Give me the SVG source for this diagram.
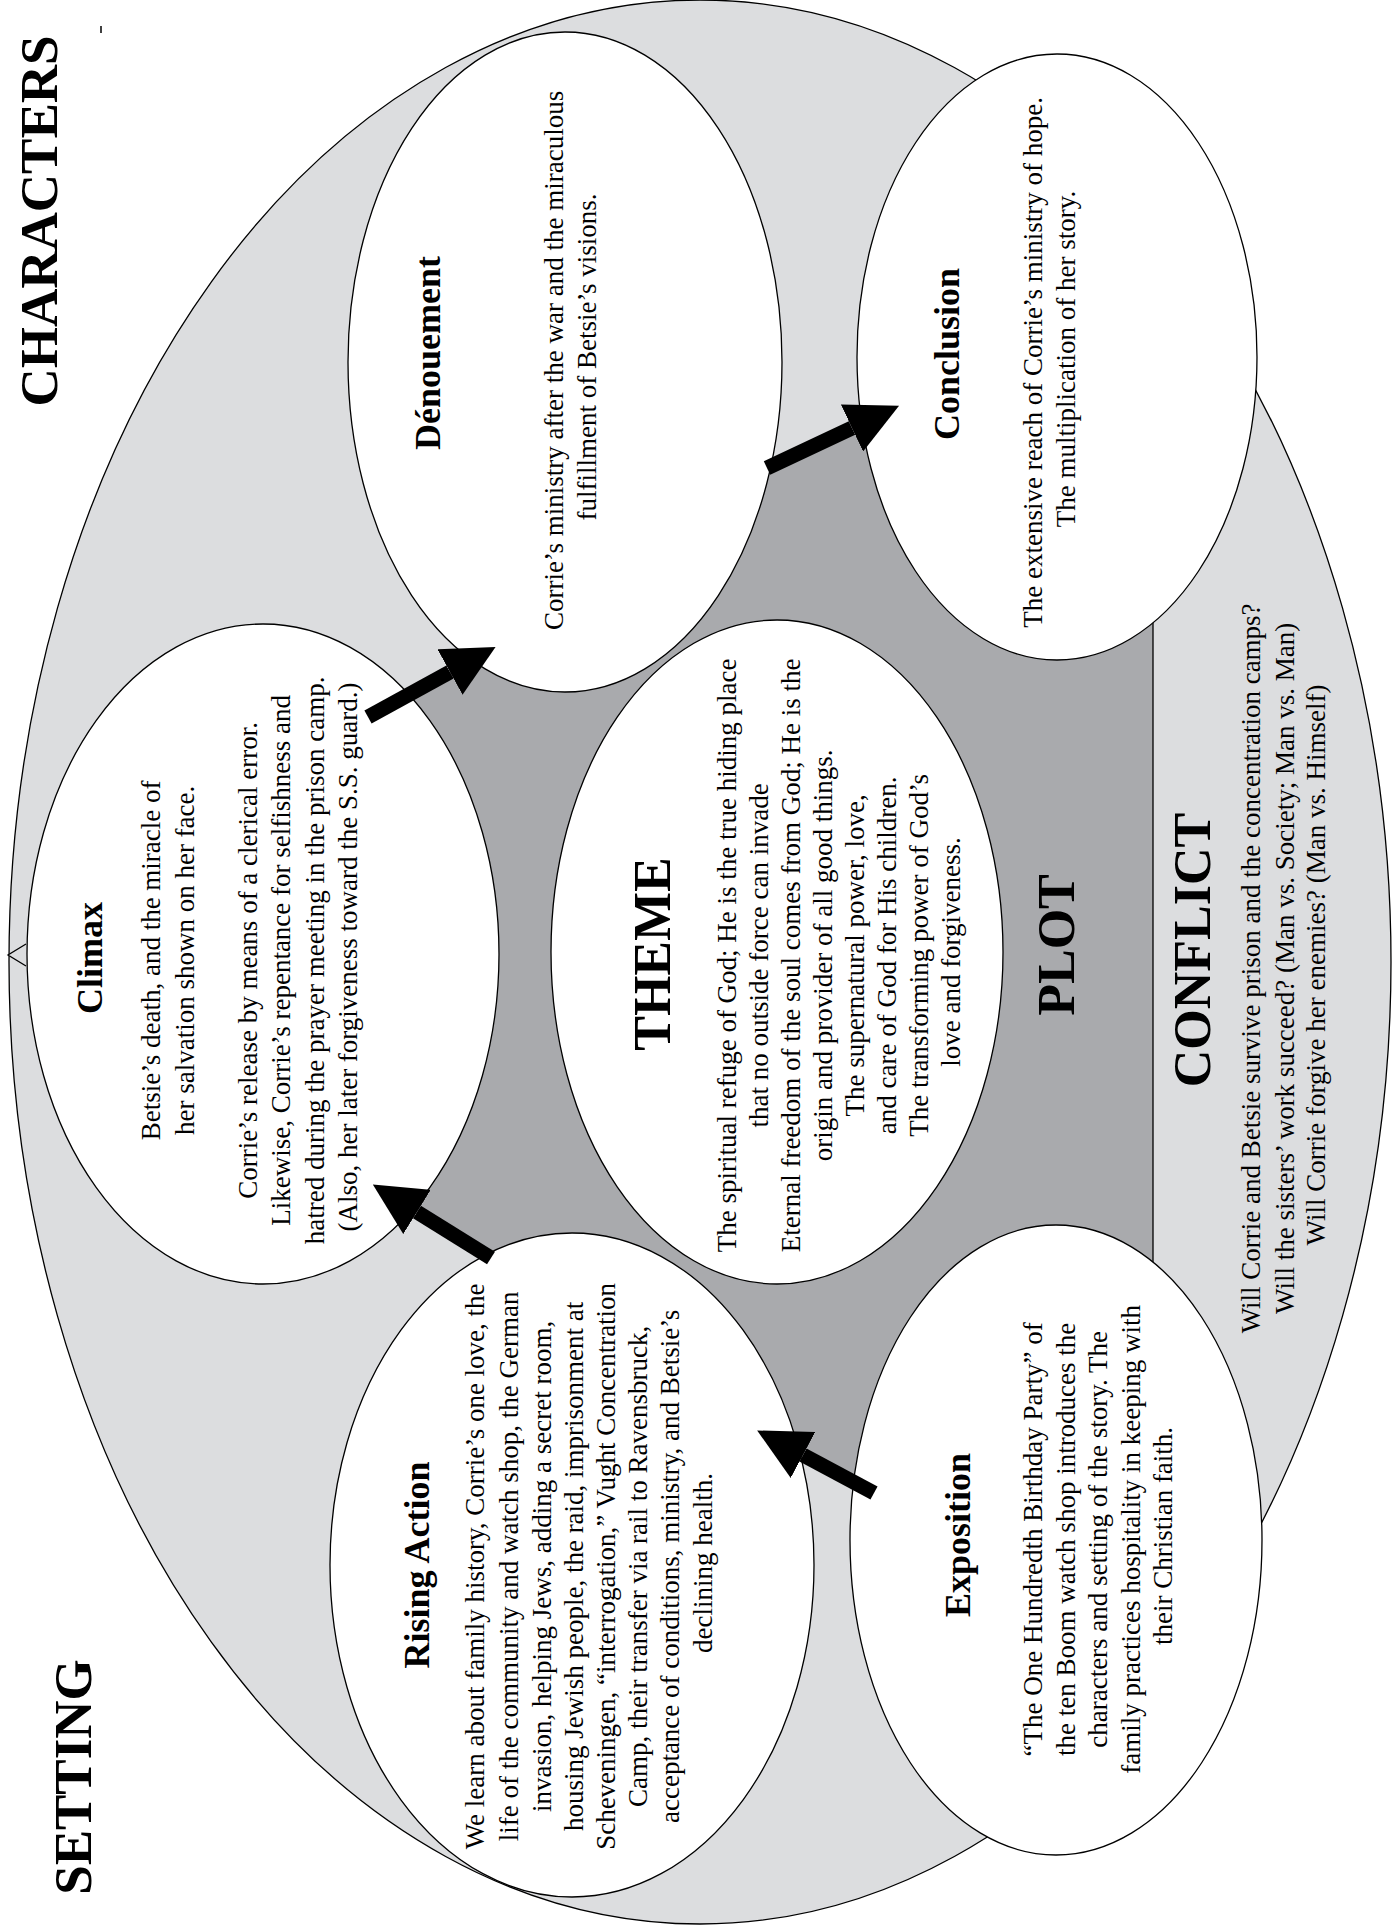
<svg xmlns="http://www.w3.org/2000/svg" width="1399" height="1925" viewBox="0 0 1399 1925">
<style>
.outer{fill:#dcdddf;stroke:#000;stroke-width:1.3}
.plot{fill:#a9aaad;stroke:none}
.divider{stroke:#000;stroke-width:1.3;fill:none}
.node{fill:#fff;stroke:#000;stroke-width:1.3}
.t{font-family:"Liberation Serif","Times New Roman",serif;fill:#000;text-anchor:middle}
.body{font-size:27px}
.h2{font-size:36px;font-weight:bold}
.h1{font-size:52px;font-weight:bold}
.arrow{stroke:#000;stroke-width:15;fill:none;marker-end:url(#head)}
</style>
<defs>
<marker id="head" markerUnits="userSpaceOnUse" viewBox="0 0 52 52" markerWidth="52" markerHeight="52" refX="0" refY="26" orient="auto">
<path d="M0,0 L52,26 L0,52 Z" fill="#000"/>
</marker>
</defs>
<rect width="1399" height="1925" fill="#fff"/>

<g id="background">
<ellipse class="outer" cx="700" cy="962" rx="691" ry="962"/>
<path d="M26,944 L8,955 L26,966" fill="#dcdddf" stroke="#000" stroke-width="1.3"/>
<path class="plot" d="M368,717 L496,647 L767,468 L899,406 L1153,406 L1153,1320 L874,1493 L757,1430 L491,1258 L373,1185 Z"/>
<line class="divider" x1="1153" y1="560" x2="1153" y2="1320"/>
<line x1="101" y1="26" x2="101" y2="33" stroke="#000" stroke-width="1.5"/>
</g>

<g id="labels">
<text class="t h1" font-size="53" transform="translate(57,221) rotate(-90)" style="font-size:53px">CHARACTERS</text>
<text class="t h1" transform="translate(91,1777) rotate(-90)" style="font-size:53px">SETTING</text>
<text class="t h1" transform="translate(1074,945) rotate(-90)">PLOT</text>
</g>

<g id="conflict">
<text class="t h1" transform="translate(1210,950) rotate(-90)">CONFLICT</text>
<text class="t body" transform="translate(1260,965) rotate(-90)">
<tspan x="0" y="0">Will Corrie and Betsie survive prison and the concentration camps?</tspan>
<tspan x="0" y="34">Will the sisters’ work succeed? (Man vs. Society; Man vs. Man)</tspan>
<tspan x="0" y="65">Will Corrie forgive her enemies? (Man vs. Himself)</tspan>
</text>
</g>

<g id="denouement">
<ellipse class="node" cx="565" cy="362" rx="217" ry="330"/>
<text class="t h2" transform="translate(440,353) rotate(-90)">Dénouement</text>
<text class="t body" transform="translate(563,357) rotate(-90)">
<tspan x="0" y="0">Corrie’s ministry after the war and the miraculous</tspan>
<tspan x="0" y="33">fulfillment of Betsie’s visions.</tspan>
</text>
</g>

<g id="conclusion">
<ellipse class="node" cx="1057" cy="357" rx="200" ry="303"/>
<text class="t h2" transform="translate(959,354) rotate(-90)">Conclusion</text>
<text class="t body" transform="translate(1042,359) rotate(-90)">
<tspan x="0" y="0">The extensive reach of Corrie’s ministry of hope.</tspan>
<tspan x="0" y="33">The multiplication of her story.</tspan>
</text>
</g>

<g id="climax">
<ellipse class="node" cx="263" cy="954" rx="236" ry="330"/>
<text class="t h2" transform="translate(102,958) rotate(-90)">Climax</text>
<text class="t body" transform="translate(160,957) rotate(-90)">
<tspan x="0" y="0">Betsie’s death, and the miracle of</tspan>
<tspan x="0" y="34">her salvation shown on her face.</tspan>
<tspan x="0" y="97">Corrie’s release by means of a clerical error.</tspan>
<tspan x="0" y="130">Likewise, Corrie’s repentance for selfishness and</tspan>
<tspan x="0" y="164">hatred during the prayer meeting in the prison camp.</tspan>
<tspan x="0" y="197">(Also, her later forgiveness toward the S.S. guard.)</tspan>
</text>
</g>

<g id="theme">
<ellipse class="node" cx="777" cy="952" rx="226" ry="332"/>
<text class="t h1" transform="translate(670,954) rotate(-90)">THEME</text>
<text class="t body" transform="translate(736,952) rotate(-90)">
<tspan x="0" y="0">The spiritual refuge of God; He is the true hiding place</tspan>
<tspan x="0" y="32">that no outside force can invade</tspan>
<tspan x="0" y="64">Eternal freedom of the soul comes from God; He is the</tspan>
<tspan x="0" y="96">origin and provider of all good things.</tspan>
<tspan x="0" y="128">The supernatural power, love,</tspan>
<tspan x="0" y="160">and care of God for His children.</tspan>
<tspan x="0" y="192">The transforming power of God’s</tspan>
<tspan x="0" y="224">love and forgiveness.</tspan>
</text>
</g>

<g id="rising-action">
<ellipse class="node" cx="572" cy="1565" rx="242" ry="332"/>
<text class="t h2" transform="translate(429,1565) rotate(-90)">Rising Action</text>
<text class="t body" transform="translate(484,1563) rotate(-90)">
<tspan x="0" y="0">We learn about family history, Corrie’s one love, the</tspan>
<tspan x="0" y="34">life of the community and watch shop, the German</tspan>
<tspan x="0" y="67">invasion, helping Jews, adding a secret room,</tspan>
<tspan x="0" y="99">housing Jewish people, the raid, imprisonment at</tspan>
<tspan x="0" y="131">Scheveningen, “interrogation,” Vught Concentration</tspan>
<tspan x="0" y="163">Camp, their transfer via rail to Ravensbruck,</tspan>
<tspan x="0" y="195">acceptance of conditions, ministry, and Betsie’s</tspan>
<tspan x="0" y="228">declining health.</tspan>
</text>
</g>

<g id="exposition">
<ellipse class="node" cx="1056" cy="1540" rx="206" ry="315"/>
<text class="t h2" transform="translate(970,1535) rotate(-90)">Exposition</text>
<text class="t body" transform="translate(1042,1536) rotate(-90)">
<tspan x="0" y="0">“The One Hundredth Birthday Party” of</tspan>
<tspan x="0" y="33">the ten Boom watch shop introduces the</tspan>
<tspan x="0" y="65">characters and setting of the story. The</tspan>
<tspan x="0" y="98">family practices hospitality in keeping with</tspan>
<tspan x="0" y="130">their Christian faith.</tspan>
</text>
</g>

<g id="connectors">
<line class="arrow" x1="874" y1="1493" x2="803" y2="1455"/>
<line class="arrow" x1="491" y1="1258" x2="417" y2="1212"/>
<line class="arrow" x1="368" y1="717" x2="450" y2="672"/>
<line class="arrow" x1="767" y1="468" x2="852" y2="428"/>
</g>
</svg>
